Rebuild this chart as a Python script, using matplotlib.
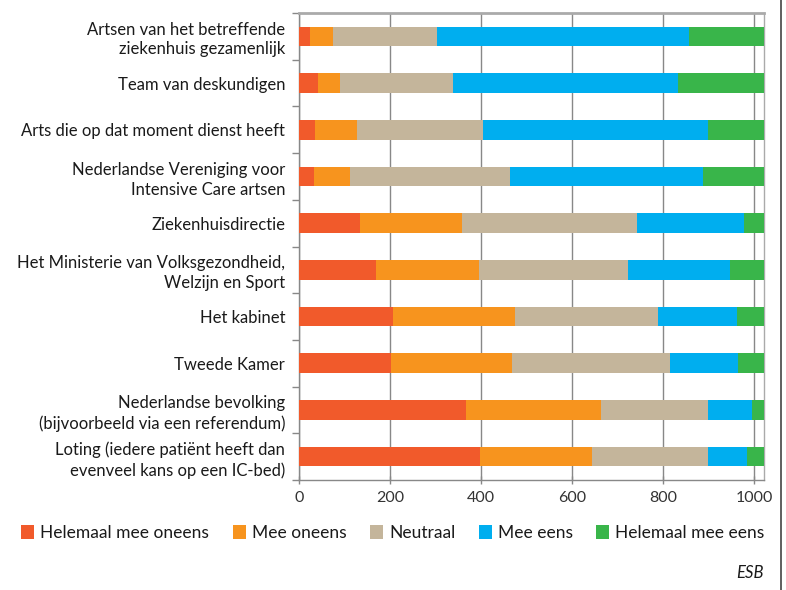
import matplotlib
matplotlib.use("Agg")
import matplotlib.pyplot as plt
from matplotlib.patches import Patch
import numpy as np

plt.rcParams['font.family'] = ['Lato', 'DejaVu Sans']

categories = [
    "Artsen van het betreffende\nziekenhuis gezamenlijk",
    "Team van deskundigen",
    "Arts die op dat moment dienst heeft",
    "Nederlandse Vereniging voor\nIntensive Care artsen",
    "Ziekenhuisdirectie",
    "Het Ministerie van Volksgezondheid,\nWelzijn en Sport",
    "Het kabinet",
    "Tweede Kamer",
    "Nederlandse bevolking\n(bijvoorbeeld via een referendum)",
    "Loting (iedere patiënt heeft dan\nevenveel kans op een IC-bed)",
]
series_names = ["Helemaal mee oneens", "Mee oneens", "Neutraal", "Mee eens", "Helemaal mee eens"]
helemaal_oneens = [25, 42, 35, 32, 134, 169, 207, 202, 367, 398]
oneens = [50, 48, 93, 81, 223, 226, 268, 266, 297, 246]
neutraal = [229, 249, 275, 351, 386, 328, 314, 346, 234, 254]
eens = [552, 494, 494, 423, 234, 223, 172, 149, 96, 85]
helemaal_eens = [165, 188, 124, 134, 44, 75, 60, 58, 27, 38]
x_ticks = [0, 200, 400, 600, 800, 1000]
source = "ESB"

colors = ["#F15A2B", "#F7941E", "#C4B59B", "#00AEEF", "#39B54A"]
series = [helemaal_oneens, oneens, neutraal, eens, helemaal_eens]

fig = plt.figure(figsize=(7.86, 5.90), dpi=100)
ax = fig.add_axes([299/786, 1-480/590, (764-299)/786, (480-13)/590])

y = np.arange(len(categories))
left = np.zeros(len(categories))
for vals, col in zip(series, colors):
    ax.barh(y, vals, left=left, height=0.42, color=col, zorder=3, linewidth=0)
    left += np.array(vals)

total = left.max()
ax.set_xlim(0, total)
ax.set_ylim(len(categories) - 0.5, -0.5)

ax.set_xticks(x_ticks)
ax.set_xticklabels([str(t) for t in x_ticks], fontsize=11.5, color="#333333")
ax.set_yticks(y)
ax.set_yticklabels(categories, fontsize=12.0, color="#1a1a1a", linespacing=1.28)
ax.tick_params(axis='y', length=0, pad=10)
ax.set_yticks(np.arange(-0.5, len(categories) + 0.5, 1), minor=True)
ax.tick_params(axis='y', which='minor', length=5, color="#888888", width=1)
ax.tick_params(axis='x', direction='inout', length=6, color="#888888", width=1, pad=5)

for t in x_ticks:
    ax.axvline(t, color="#888888", linewidth=1, zorder=1)

for s in ['left', 'bottom']:
    ax.spines[s].set_color("#888888")
    ax.spines[s].set_linewidth(1)
ax.spines['top'].set_color("#aaaaaa")
ax.spines['top'].set_linewidth(2)
ax.spines['right'].set_color("#aaaaaa")
ax.spines['right'].set_linewidth(1)

handles = [Patch(facecolor=c, edgecolor='none') for c in colors]
fig.legend(handles, series_names, loc='center', bbox_to_anchor=(393/786, 1-533/590),
           ncol=5, frameon=False, fontsize=12.5, handlelength=0.75, handleheight=0.8,
           handletextpad=0.35, columnspacing=1.35, labelcolor="#1a1a1a")

fig.text(764/786, 1-573/590, source, ha='right', va='center', fontsize=12,
         style='italic', color="#1a1a1a")

fig.add_artist(plt.Line2D([781/786, 781/786], [0, 1], transform=fig.transFigure,
                          color="#444444", linewidth=1.2))

fig.savefig("out.png", dpi=100)
